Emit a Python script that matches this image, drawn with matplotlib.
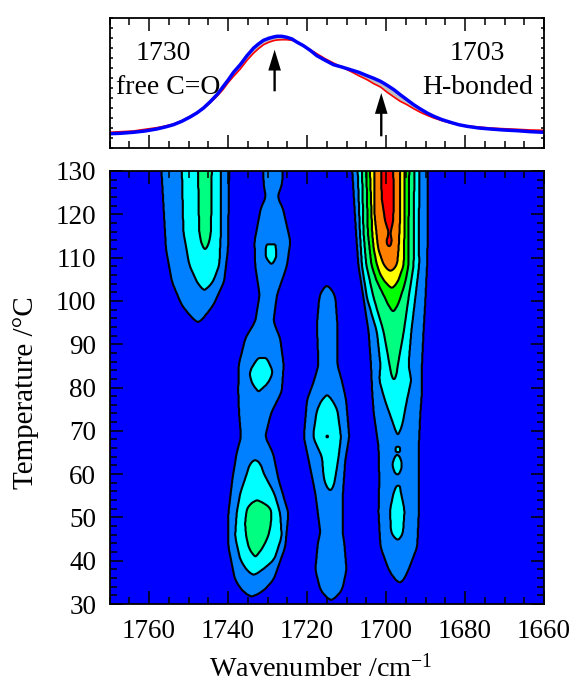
import numpy as np
import matplotlib
matplotlib.use("Agg")
import matplotlib.pyplot as plt
from matplotlib.ticker import MultipleLocator

plt.rcParams['font.family'] = ['Liberation Serif', 'DejaVu Serif']
plt.rcParams['mathtext.default'] = 'regular'

# --- top panel spectra ---
spec_wn = [1769.9, 1767.3, 1763.96, 1761, 1758.05, 1755.9, 1753.8, 1751.7, 1749.6, 1747.9, 1746.2, 1744.5,
           1742.8, 1741.3, 1739.9, 1738.6, 1736.9, 1735.2, 1733.5, 1732.3, 1731, 1729.7, 1728.5, 1727.6,
           1726.4, 1725.1, 1723.8, 1722.6, 1720.9, 1719.2, 1717.5, 1715.4, 1713.3, 1711.2, 1709, 1706.9,
           1704.8, 1703.1, 1701.4, 1699.7, 1698, 1696.4, 1694.7, 1693, 1691.3, 1689.6, 1687.9, 1685.8,
           1683.7, 1681.6, 1679.5, 1676.5, 1673.6, 1670.2, 1666.8, 1663.4, 1660]
spec_blue = [14.3, 14.7, 15.7, 17, 19, 21, 23.3, 26.7, 31, 35, 40, 46.3,
             53.3, 61, 68.3, 75.7, 83.3, 92.3, 100, 104, 107.7, 109.7, 111, 111.7,
             111.7, 110.7, 109, 106, 102.3, 97.7, 92.3, 87.7, 83.3, 81, 78.3, 75.7,
             72.3, 69.7, 66.7, 62.7, 58.3, 53.3, 48.3, 43.3, 39, 35, 31.7, 28.3,
             25.7, 23.3, 21.7, 20, 19, 18, 17.3, 16.3, 15.7]
spec_red = [15.7, 16.3, 17, 18.7, 20.3, 22, 24, 27.3, 31.7, 35.3, 39.3, 45.3,
            51.7, 58.3, 65.7, 71.7, 79, 87.7, 95, 99.3, 103.3, 105.7, 107.3, 108,
            108.3, 108.3, 107.7, 106, 102.3, 98.3, 94.3, 89.3, 85, 81, 76.7, 72.3,
            68.3, 64.3, 61, 55.7, 51, 46.7, 43.3, 39.3, 35.7, 32.7, 30, 27.3,
            25, 23.3, 22, 21, 20, 19.3, 18.7, 18, 17.7]

# --- contour outlines: (temperature, left wavenumber, right wavenumber) ---
A_L1 = [(131, 1756.9, 1739.7), (112, 1755.7, 1740), (104.4, 1754.2, 1741), (99, 1751.7, 1743.7),
        (97.5, 1750.4, 1745), (96.2, 1749.2, 1746.1), (95.4, 1748.3, 1746.9), (95.1, 1747.6, 1747.6)]
A_L2 = [(131, 1751.7, 1741.8), (116, 1751.3, 1741.8), (108.3, 1749.8, 1742.2), (104.4, 1747.9, 1743.8),
        (103.2, 1747, 1744.9), (102.5, 1746, 1746)]
A_L3 = [(131, 1747.6, 1744.1), (116, 1747.3, 1744.3), (113, 1746.7, 1744.9), (111.8, 1745.8, 1745.8)]

B_L1 = [(131, 1731, 1726.1), (127, 1731, 1726.3), (124, 1730.4, 1727.5), (121.4, 1731.7, 1726.1),
        (113.7, 1733.3, 1724.2), (108, 1733.1, 1725.1), (101.4, 1732, 1727.6), (95.2, 1733.1, 1728.5),
        (91.4, 1735.6, 1726.8), (85.2, 1737.3, 1725.9), (79, 1737.4, 1726.4), (74.1, 1737.2, 1729.1),
        (68.6, 1736.7, 1730.6), (64.9, 1737.8, 1728.6), (58.7, 1738.9, 1727.2), (51, 1739.9, 1724.7),
        (43.2, 1739.9, 1725.5), (35.5, 1738.2, 1728.5), (32.6, 1736, 1731.5), (31.7, 1734, 1734)]
B_I1 = [(113.1, 1730.2, 1728), (112.5, 1730.4, 1727.9), (109.8, 1730.5, 1727.7), (108.5, 1729, 1729)]
B_I2 = [(86.8, 1732.2, 1730.4), (86, 1733.1, 1729.7), (83.5, 1734.6, 1728.6), (81, 1734, 1729.8),
        (79, 1732.3, 1732.3)]
B_I3 = [(63.3, 1733.1, 1733.1), (62.6, 1734.4, 1731.8), (60.2, 1735.2, 1731), (55.6, 1736.9, 1728.3),
        (51, 1737.8, 1726.8), (45.6, 1738.2, 1726.4), (40.2, 1736.9, 1728.3), (37.5, 1735, 1731.8),
        (36.7, 1733.5, 1733.5)]
B_L3 = [(54, 1732.7, 1732.7), (53.2, 1734.4, 1730.6), (52.2, 1735.2, 1729.1), (48.7, 1735.7, 1729.1),
        (45.6, 1735.4, 1729.8), (42.5, 1734.6, 1731.5), (40.9, 1733.1, 1733.1)]

C_L1 = [(103.5, 1715, 1715), (102.6, 1716.2, 1713.6), (100.7, 1716.9, 1712.8), (94.4, 1717.5, 1712.3),
        (85.2, 1717.1, 1712.3), (81.3, 1718.3, 1711.1), (77.1, 1720, 1710.1), (68.6, 1720.8, 1709.3),
        (63.3, 1719.6, 1710.3), (55.6, 1717.9, 1710.9), (46.4, 1716.6, 1711), (44.5, 1717.2, 1710.6),
        (37.9, 1717.9, 1710), (33.2, 1716.6, 1711.1), (31.6, 1715.2, 1712.6), (30.9, 1713.9, 1713.9)]
C_L2 = [(78.3, 1714.9, 1714.9), (77.4, 1716.1, 1713.8), (74.8, 1717.5, 1712.3), (68.6, 1718.5, 1711.4),
        (64, 1716.2, 1712), (59.4, 1715.8, 1712.8), (57, 1715.1, 1713.3), (56.2, 1714.1, 1714.1)]
C_L3 = [(69, 1715.1, 1714.7), (68.3, 1715.1, 1714.7)]

D_L1 = [(131, 1708.6, 1689.4), (116, 1707.6, 1689.4), (108.3, 1707, 1689.6), (100.7, 1705.7, 1690),
        (92.9, 1704.4, 1690.5), (85.2, 1703.8, 1690.9), (79, 1703.5, 1690.9), (74.1, 1703.1, 1691.3),
        (66.3, 1701.9, 1691.7), (58.7, 1701.7, 1691.7), (51, 1701.9, 1691.7), (43.2, 1701.4, 1692.1),
        (37.9, 1699.3, 1694.3), (35.7, 1697.8, 1695.4), (34.9, 1696.5, 1696.5)]
D_L2 = [(131, 1707.2, 1691.5), (115.8, 1706.6, 1691.7), (108.3, 1706.1, 1691.6), (100.6, 1704.8, 1692.6),
        (92.9, 1702.3, 1693.6), (85.2, 1701.4, 1694.3), (81.7, 1701.7, 1693.6), (77.1, 1700.3, 1694.7),
        (71.7, 1698.2, 1695.8), (70, 1697.6, 1696.4), (69, 1697, 1697)]
D_I1 = [(66.3, 1697.6, 1696.5), (65.1, 1697.6, 1696.5)]
D_I2 = [(64.4, 1697.4, 1696.9), (63.5, 1698.1, 1696.2), (62, 1698.4, 1695.9), (60.5, 1698, 1696.3),
        (59.8, 1697.1, 1697.1)]
D_I3 = [(57.3, 1697.3, 1696.5), (56, 1698, 1696.3), (51.7, 1699, 1695.3), (46.4, 1698.7, 1695.7),
        (45.4, 1698, 1696.2), (44.8, 1697, 1697)]
D_L3 = [(131, 1706.1, 1692.8), (115.8, 1705.7, 1693), (108.3, 1705, 1693), (100.6, 1703.1, 1694.3),
        (92.9, 1700.6, 1695.5), (85.2, 1699.1, 1697), (82.6, 1698.6, 1697.4), (81.7, 1698, 1698)]
D_L4 = [(131, 1705, 1694.1), (115.8, 1704.6, 1694.3), (108.3, 1703.7, 1694.3), (104.4, 1702.3, 1695.1),
        (100.6, 1700.2, 1696.4), (98.6, 1699.2, 1697.2), (97.5, 1698.2, 1698.2)]
D_L5 = [(131, 1704.1, 1695.3), (115.8, 1703.5, 1695.3), (112, 1703.1, 1695.5), (108.3, 1702.3, 1695.5),
        (106, 1701.4, 1696.4), (104.4, 1700.3, 1697), (103.4, 1699.3, 1697.8), (103, 1698.5, 1698.5)]
D_L6 = [(131, 1703, 1696.5), (119.8, 1702.9, 1696.4), (112.1, 1702, 1696.8), (108.3, 1700.6, 1697.2),
        (107.3, 1699.7, 1698), (106.9, 1698.9, 1698.9)]
D_L7 = [(131, 1701.2, 1698.2), (123.8, 1701.1, 1698), (118.3, 1700.2, 1698.2), (115.6, 1699.2, 1698.9),
        (115.2, 1699.2, 1698.9), (114.6, 1699.8, 1698.6), (113.2, 1700, 1698.5), (112.5, 1699.2, 1699.2)]

outlines = [(1, A_L1), (2, A_L2), (3, A_L3),
            (1, B_L1), (2, B_I1), (2, B_I2), (2, B_I3), (3, B_L3),
            (1, C_L1), (2, C_L2), (3, C_L3),
            (1, D_L1), (2, D_L2), (2, D_I1), (2, D_I2), (2, D_I3),
            (3, D_L3), (4, D_L4), (5, D_L5), (6, D_L6), (7, D_L7)]

level_colors = ['#0000ff', '#0080ff', '#00ffff', '#00ff80', '#00ff00', '#ffff00', '#ff8000', '#ff0000']

# --- build the level field on a fine grid ---
grid_wn = np.linspace(1770, 1660, 881)
grid_t = np.linspace(30, 130, 801)
W, T = np.meshgrid(grid_wn, grid_t)
Z = np.zeros_like(W)


def soften(edge, half):
    """Round the kinks of an outline with a centred window that shrinks at both ends."""
    c = np.concatenate([[0.0], np.cumsum(edge)])
    n = len(edge)
    i = np.arange(n)
    h = np.minimum(np.minimum(i, n - 1 - i), half)
    return (c[i + h + 1] - c[i - h]) / (2 * h + 1)


for level, rows in outlines:
    rows = sorted(rows)
    ts = np.array([r[0] for r in rows])
    ls = np.array([r[1] for r in rows])
    rs = np.array([r[2] for r in rows])
    idx = np.where((grid_t >= ts[0]) & (grid_t <= ts[-1]))[0]
    left = soften(np.interp(grid_t[idx], ts, ls), 8)
    right = soften(np.interp(grid_t[idx], ts, rs), 8)
    for i, lft, rgt in zip(idx, left, right):
        inside = (grid_wn <= lft) & (grid_wn >= rgt)
        Z[i, inside] = np.maximum(Z[i, inside], level)


def blur(a, n):
    k = np.ones(n) / n
    pad = n // 2
    b = np.pad(a, pad, mode='edge')
    b = np.apply_along_axis(lambda v: np.convolve(v, k, mode='valid'), 0, b)
    b = np.apply_along_axis(lambda v: np.convolve(v, k, mode='valid'), 1, b)
    return b


Z = blur(Z, 5)
bounds = [-1, 0.5, 1.5, 2.5, 3.5, 4.5, 5.5, 6.5, 9]

# --- figure ---
W_PX, H_PX = 571, 686
fig = plt.figure(figsize=(W_PX / 100, H_PX / 100), dpi=100)


def axes_px(l, t, r, b):
    return fig.add_axes([l / W_PX, 1 - b / H_PX, (r - l) / W_PX, (b - t) / H_PX])


ax_top = axes_px(109.5, 18, 544, 148)
ax = axes_px(109.5, 171, 544, 604)

# spectra
ax_top.fill_between(spec_wn, spec_blue, spec_red, color='#c0c0c0', lw=0)
ax_top.plot(spec_wn, spec_red, color='#ff0000', lw=1.2)
ax_top.plot(spec_wn, spec_blue, color='#0000ff', lw=2.5)
ax_top.set_xlim(1770, 1660)
ax_top.set_ylim(0, 130)
ax_top.xaxis.set_major_locator(MultipleLocator(20))
ax_top.xaxis.set_minor_locator(MultipleLocator(5))
ax_top.yaxis.set_major_locator(MultipleLocator(10))
ax_top.tick_params(axis='x', which='major', direction='in', top=True, bottom=True, length=9.5, width=1.1,
                   labelbottom=False)
ax_top.tick_params(axis='x', which='minor', direction='in', top=True, bottom=True, length=5.2, width=1.1)
ax_top.tick_params(axis='y', which='major', direction='in', left=True, right=True, length=2, width=1.1,
                   labelleft=False)
for s in ax_top.spines.values():
    s.set_linewidth(1.3)

for (x, y, s) in [(1756.4, 95, '1730'), (1755.2, 61, 'free C=O'), (1676.8, 95, '1703'), (1676.8, 61, 'H-bonded')]:
    ax_top.text(x, y, s, ha='center', va='center', fontsize=20)
for (x, y0, y1) in [(1728.2, 56.7, 98.3), (1701.2, 11.7, 55)]:
    ax_top.annotate('', xy=(x, y1), xytext=(x, y0),
                    arrowprops=dict(facecolor='k', edgecolor='k', width=1.7, headwidth=9.1, headlength=15,
                                    shrink=0, lw=0))

# map
ax.contourf(W, T, Z, levels=bounds, colors=level_colors)
ax.contour(W, T, Z, levels=bounds[1:-1], colors='k', linewidths=1.5)
ax.set_xlim(1770, 1660)
ax.set_ylim(30, 130)
ax.xaxis.set_major_locator(MultipleLocator(20))
ax.xaxis.set_minor_locator(MultipleLocator(5))
ax.yaxis.set_major_locator(MultipleLocator(10))
ax.yaxis.set_minor_locator(MultipleLocator(2))
ax.tick_params(axis='both', which='major', direction='in', top=True, bottom=True, left=True, right=True,
               length=9.5, width=1.1, labelsize=19.5)
ax.tick_params(axis='both', which='minor', direction='in', top=True, bottom=True, left=True, right=True,
               length=5.2, width=1.1)
ax.tick_params(axis='x', which='major', pad=11)
ax.tick_params(axis='y', which='major', pad=9.5)
for s in ax.spines.values():
    s.set_linewidth(1.3)

fig.text(321 / W_PX, 1 - 668 / H_PX, 'Wavenumber /cm$^{-1}$', ha='center', va='center', fontsize=20.3)
fig.text(25.7 / W_PX, 1 - 392.7 / H_PX, 'Temperature /°C', ha='center', va='center', rotation=90, fontsize=21)

fig.savefig('out.png', dpi=100)
